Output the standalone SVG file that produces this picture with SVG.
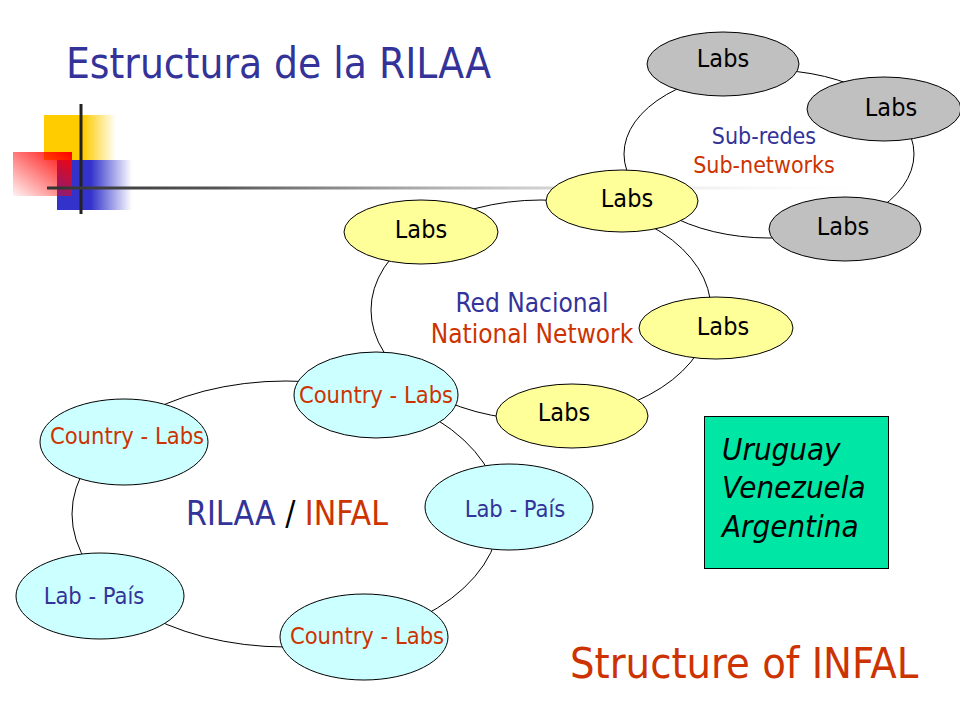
<svg xmlns="http://www.w3.org/2000/svg" width="960" height="720" viewBox="0 0 960 720">
<style>
text{font-family:'DejaVu Sans Condensed','DejaVu Sans',sans-serif;font-stretch:condensed}
.ring{fill:none;stroke:#000;stroke-width:1}
.gray{fill:#C0C0C0;stroke:#000;stroke-width:1}
.yel{fill:#FFFF99;stroke:#000;stroke-width:1}
.cyan{fill:#CCFFFF;stroke:#000;stroke-width:1}
.labs{font-size:25px;fill:#000;text-anchor:middle}
.cl{font-size:23.5px;fill:#CC3300;text-anchor:middle}
.lp{font-size:23.5px;fill:#333399;text-anchor:middle}
.blue{fill:#333399}
.red{fill:#CC3300}
.mid{text-anchor:middle}
.it{font-size:31px;font-style:italic;fill:#000}
</style>
<defs>
<linearGradient id="gY" x1="0" y1="0" x2="1" y2="0">
<stop offset="0" stop-color="#FFCC00"/><stop offset="0.55" stop-color="#FFCC00"/><stop offset="1" stop-color="#FFCC00" stop-opacity="0"/>
</linearGradient>
<linearGradient id="gB" x1="0" y1="0" x2="1" y2="0">
<stop offset="0" stop-color="#3333CC"/><stop offset="0.45" stop-color="#3333CC"/><stop offset="1" stop-color="#3333CC" stop-opacity="0"/>
</linearGradient>
<linearGradient id="gR" x1="0" y1="1" x2="1" y2="0">
<stop offset="0" stop-color="#FF0000" stop-opacity="0.05"/><stop offset="1" stop-color="#FF0000"/>
</linearGradient>
<linearGradient id="gBar" x1="0" y1="0" x2="1" y2="0">
<stop offset="0" stop-color="#333333"/><stop offset="0.2" stop-color="#555555"/><stop offset="1" stop-color="#FFFFFF" stop-opacity="0"/>
</linearGradient>
</defs>

<g id="logo">
<rect x="44" y="115" width="72" height="45" fill="url(#gY)"/>
<rect x="57" y="160" width="75" height="50" fill="url(#gB)"/>
<rect x="13" y="152" width="59" height="44" fill="url(#gR)"/>
<rect x="79.5" y="104" width="3" height="110" fill="#222"/>
<rect x="47" y="186.5" width="850" height="3" fill="url(#gBar)"/>
</g>

<text x="66" y="78" font-size="42" class="blue">Estructura de la RILAA</text>

<g id="connectors">
<ellipse class="ring" cx="769" cy="154" rx="145" ry="84"/>
<ellipse class="ring" cx="541" cy="310" rx="170" ry="110"/>
<ellipse class="ring" cx="286" cy="514" rx="214" ry="133"/>
</g>

<g id="ring-labels">
<text x="764" y="144" font-size="23" class="blue mid">Sub-redes</text>
<text x="764" y="173" font-size="23" class="red mid">Sub-networks</text>
<text x="532" y="312" font-size="26" class="blue mid">Red Nacional</text>
<text x="532" y="343" font-size="26" class="red mid">National Network</text>
<text x="287" y="525" font-size="33.5" class="mid"><tspan class="blue">RILAA</tspan><tspan fill="#000"> / </tspan><tspan class="red">INFAL</tspan></text>
</g>

<g id="sub-labs-1"><ellipse class="gray" cx="723" cy="64" rx="76" ry="32"/><text class="labs" x="723" y="67">Labs</text></g>
<g id="sub-labs-2"><ellipse class="gray" cx="884" cy="109" rx="77" ry="32"/><text class="labs" x="891" y="116">Labs</text></g>
<g id="sub-labs-3"><ellipse class="gray" cx="845" cy="229" rx="76" ry="32"/><text class="labs" x="843" y="235">Labs</text></g>

<g id="nat-labs-top"><ellipse class="yel" cx="622" cy="201" rx="76" ry="31"/><text class="labs" x="627" y="207">Labs</text></g>
<g id="nat-labs-left"><ellipse class="yel" cx="421" cy="232" rx="77" ry="32"/><text class="labs" x="421" y="238">Labs</text></g>
<g id="nat-labs-right"><ellipse class="yel" cx="716" cy="328" rx="77" ry="31"/><text class="labs" x="723" y="335">Labs</text></g>
<g id="nat-labs-bottom"><ellipse class="yel" cx="572" cy="416" rx="76" ry="32"/><text class="labs" x="564" y="421">Labs</text></g>

<g id="country-labs-top"><ellipse class="cyan" cx="376" cy="395" rx="82" ry="43"/><text class="cl" x="376" y="403">Country - Labs</text></g>
<g id="country-labs-left"><ellipse class="cyan" cx="124" cy="442" rx="84" ry="43"/><text class="cl" x="127" y="444">Country - Labs</text></g>
<g id="lab-pais-right"><ellipse class="cyan" cx="509" cy="507" rx="84" ry="43"/><text class="lp" x="515" y="517">Lab - País</text></g>
<g id="lab-pais-left"><ellipse class="cyan" cx="100" cy="596" rx="84" ry="43"/><text class="lp" x="94" y="604">Lab - País</text></g>
<g id="country-labs-bottom"><ellipse class="cyan" cx="364" cy="637" rx="84" ry="43"/><text class="cl" x="367" y="644">Country - Labs</text></g>

<g id="countries-box">
<rect x="704.5" y="416.5" width="184" height="152" fill="#00E6A5" stroke="#000" stroke-width="1"/>
<text x="722" y="460" class="it">Uruguay</text>
<text x="722" y="498" class="it">Venezuela</text>
<text x="722" y="537" class="it">Argentina</text>
</g>

<text x="570" y="678" font-size="43" class="red">Structure of INFAL</text>
</svg>
